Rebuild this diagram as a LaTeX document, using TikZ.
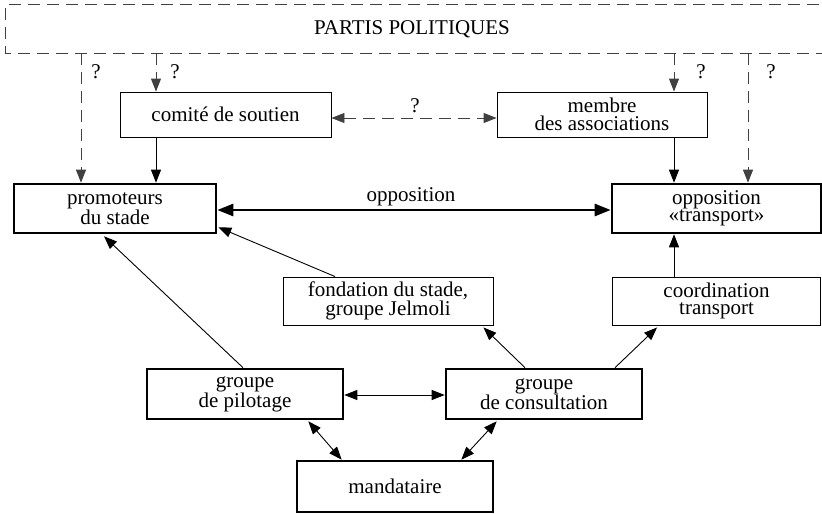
\documentclass[tikz,border=0pt]{standalone}
\usepackage{fontspec}
\setmainfont{Liberation Serif}
\newfontfamily\tmsfont{Liberation Serif}
\usetikzlibrary{arrows.meta}
\tikzset{
  box/.style={draw, line width=0.9pt, rectangle, align=center, inner sep=0pt},
  thickbox/.style={box, line width=2.6pt},
  conn/.style={line width=0.9pt, -{Triangle[length=13pt,width=10pt]}},
  dconn/.style={line width=0.9pt, {Triangle[length=13pt,width=10pt]}-{Triangle[length=13pt,width=10pt]}},
  dashconn/.style={line width=0.9pt, black!75, dash pattern=on 12pt off 7pt,
     -{Triangle[length=13pt,width=10pt]}},
  ddashconn/.style={line width=0.9pt, black!75, dash pattern=on 12pt off 7pt,
     {Triangle[length=13pt,width=10pt]}-{Triangle[length=13pt,width=10pt]}},
  thickconn/.style={line width=2.6pt, {Triangle[length=16pt,width=12pt]}-{Triangle[length=16pt,width=12pt]}},
  qlabel/.style={text=black, inner sep=0pt}
}
\begin{document}
\begin{tikzpicture}[x=1pt,y=-1pt,font=\tmsfont\fontsize{21}{17.5}\selectfont]
\useasboundingbox (0,0) rectangle (822,514);
\clip (0,0) rectangle (822,514);

% PARTIS POLITIQUES
\node (partis) [minimum width=812pt, minimum height=48pt, inner sep=0pt] at (412,29) {PARTIS POLITIQUES};
\draw[line width=0.9pt, black!75, dash pattern=on 12pt off 7pt]
  ([xshift=20pt]partis.north east) -- (partis.north west) -- (partis.south west) -- ([xshift=20pt]partis.south east);

% boxes
\node (comite) [box, minimum width=211pt, minimum height=45pt] at (225.5,114.5) {comité de soutien};
\node (membre) [box, minimum width=210pt, minimum height=45pt] at (602,114.5) {membre\\des associations};
\node (promoteurs) [thickbox, minimum width=202pt, minimum height=49pt] at (115,208.5) {promoteurs\\du stade};
\node (opposition) [thickbox, minimum width=209pt, minimum height=49pt] at (716.5,208.5) {opposition\\«transport»};
\node (fondation) [box, minimum width=210pt, minimum height=48pt] at (388,301) {fondation du stade,\\groupe Jelmoli};
\node (coordination) [box, minimum width=208pt, minimum height=48pt] at (716.5,301) {coordination\\transport};
\node (pilotage) [thickbox, minimum width=196pt, minimum height=50pt] at (245,394) {groupe\\de pilotage};
\node (consultation) [thickbox, minimum width=196pt, minimum height=50pt] at (544,394) {groupe\\de consultation};
\node (mandataire) [thickbox, minimum width=196pt, minimum height=51pt] at (395,486.5) {mandataire};

% x positions of vertical connectors
\coordinate (q1) at (81,0);
\coordinate (q2) at (156,0);
\coordinate (q3) at (674,0);
\coordinate (q4) at (748,0);

% dashed connectors from PARTIS
\draw[dashconn] (partis.south -| q1) -- node[qlabel, pos=0.145, xshift=15pt] {?} (promoteurs.north -| q1);
\draw[dashconn] (partis.south -| q2) -- node[qlabel, pos=0.49, xshift=19pt] {?} (comite.north -| q2);
\draw[dashconn] (partis.south -| q3) -- node[qlabel, pos=0.49, xshift=27pt] {?} (membre.north -| q3);
\draw[dashconn] (partis.south -| q4) -- node[qlabel, pos=0.145, xshift=23pt] {?} (opposition.north -| q4);

% comite <-> membre
\draw[ddashconn] ([yshift=-3.5pt]comite.east) -- node[qlabel, above, yshift=5pt, xshift=1pt] {?} ([yshift=-3.5pt]membre.west);

% vertical solid
\draw[conn] (comite.south -| q2) -- (promoteurs.north -| q2);
\draw[conn] (membre.south -| q3) -- (opposition.north -| q3);
\draw[conn] (coordination.north -| q3) -- (opposition.south -| q3);

% opposition
\draw[thickconn] ([yshift=-1.5pt]promoteurs.east) -- node[above, yshift=3pt, xshift=-3pt, inner sep=0pt] {opposition} ([yshift=-1.5pt]opposition.west);

% diagonals
\draw[conn] ([xshift=-53pt]fondation.north) -- ([xshift=1pt,yshift=7pt]promoteurs.south east);
\draw[conn] ([xshift=-2pt]pilotage.north) -- ([xshift=-11pt,yshift=-2pt]promoteurs.south);
\draw[conn] ([xshift=-19pt]consultation.north) -- ([xshift=-10pt,yshift=-2pt]fondation.south east);
\draw[conn] ([xshift=71pt]consultation.north) -- ([xshift=45pt,yshift=-2pt]coordination.south west);

% bottom
\draw[dconn] ([yshift=-1pt]pilotage.east) -- ([yshift=-1pt]consultation.west);
\draw[dconn] ([xshift=-36pt,yshift=-1pt]pilotage.south east) -- ([xshift=46pt]mandataire.north west);
\draw[dconn] ([xshift=52pt,yshift=-1pt]consultation.south west) -- ([xshift=-33pt]mandataire.north east);
\end{tikzpicture}
\end{document}
